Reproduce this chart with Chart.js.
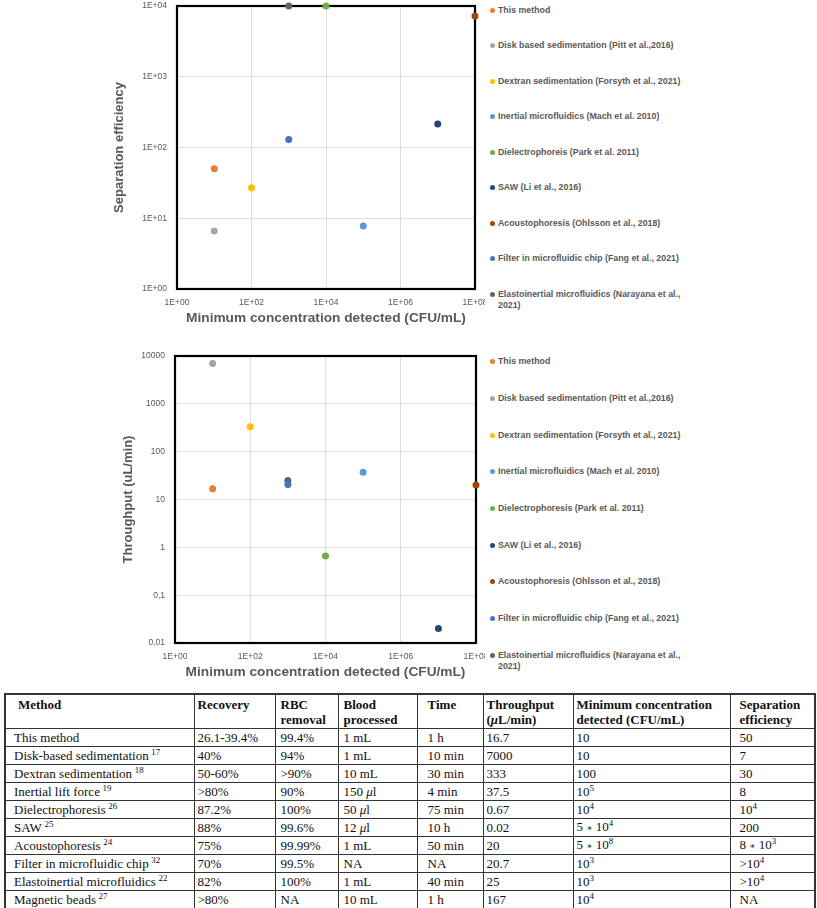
<!DOCTYPE html>
<html>
<head>
<meta charset="utf-8">
<script src="https://cdn.jsdelivr.net/npm/chart.js@4.4.1/dist/chart.umd.min.js"></script>
<style>
    body { margin: 0; background: #fff; }
    #page { position: relative; width: 817px; height: 908px; overflow: hidden; font-family: "Liberation Sans", Arial, sans-serif; }
    .chart-box { position: absolute; left: 0; }
    .legend { position: absolute; left: 0; top: 0; width: 0; height: 0; }
    .legend-item { position: absolute; display: flex; align-items: flex-start; font-weight: bold; font-size: 8.8px; line-height: 11px; color: #595959; }
    .legend-dot { width: 5px; height: 5px; border-radius: 50%; margin-top: 3px; margin-right: 3px; flex: none; }
    .legend-text { width: 192px; }

    #cmp { position: absolute; left: 4px; top: 693px; width: 810px; border-collapse: collapse; table-layout: fixed;
           font-family: "Liberation Serif", "Times New Roman", serif; font-size: 13px; color: #111; border: 2px solid #333; }
    #cmp th, #cmp td { border: 1px solid #333; padding: 0 2px 0 3px; text-align: left; white-space: nowrap; }
    #cmp th { font-weight: bold; vertical-align: top; line-height: 15px; padding-top: 2px; height: 31px; }
    #cmp td { height: 17px; line-height: 15px; vertical-align: middle; }
    #cmp th:nth-child(1) { padding-left: 12px; }
    #cmp td:nth-child(1) { padding-left: 8px; }
    #cmp td:nth-child(3), #cmp th:nth-child(3), #cmp td:nth-child(4), #cmp th:nth-child(4) { padding-left: 5px; }
    #cmp td:nth-child(5), #cmp th:nth-child(5) { padding-left: 10px; }
    #cmp td:nth-child(8), #cmp th:nth-child(8) { padding-left: 9px; }
    #cmp sup { font-size: 9px; line-height: 0; vertical-align: 5px; }
    #cmp .op { font-family: "DejaVu Serif", serif; font-size: 9px; }
</style>
</head>
<body>
<div id="page">
    <div class="chart-box" style="top:0;width:485px;height:330px"><canvas id="sep-chart" width="485" height="330"></canvas></div>
    <div class="chart-box" style="top:340px;width:485px;height:340px"><canvas id="thr-chart" width="485" height="340"></canvas></div>
    <div class="legend" id="sep-legend"></div>
    <div class="legend" id="thr-legend"></div>

    <table id="cmp">
        <colgroup>
            <col style="width:189px"><col style="width:81px"><col style="width:63px"><col style="width:79px">
            <col style="width:66px"><col style="width:90px"><col style="width:157px"><col style="width:85px">
        </colgroup>
        <tr><th>Method</th><th>Recovery</th><th>RBC<br>removal</th><th>Blood<br>processed</th><th>Time</th><th>Throughput<br>(<i>μ</i>L/min)</th><th>Minimum concentration<br>detected (CFU/mL)</th><th>Separation<br>efficiency</th></tr>
        <tr><td>This method</td><td>26.1-39.4%</td><td>99.4%</td><td>1 mL</td><td>1 h</td><td>16.7</td><td>10</td><td>50</td></tr>
        <tr><td>Disk-based sedimentation&thinsp;<sup>17</sup></td><td>40%</td><td>94%</td><td>1 mL</td><td>10 min</td><td>7000</td><td>10</td><td>7</td></tr>
        <tr><td>Dextran sedimentation&thinsp;<sup>18</sup></td><td>50-60%</td><td>&gt;90%</td><td>10 mL</td><td>30 min</td><td>333</td><td>100</td><td>30</td></tr>
        <tr><td>Inertial lift force&thinsp;<sup>19</sup></td><td>&gt;80%</td><td>90%</td><td>150 <i>μ</i>l</td><td>4 min</td><td>37.5</td><td>10<sup>5</sup></td><td>8</td></tr>
        <tr><td>Dielectrophoresis&thinsp;<sup>26</sup></td><td>87.2%</td><td>100%</td><td>50 <i>μ</i>l</td><td>75 min</td><td>0.67</td><td>10<sup>4</sup></td><td>10<sup>4</sup></td></tr>
        <tr><td>SAW&thinsp;<sup>25</sup></td><td>88%</td><td>99.6%</td><td>12 <i>μ</i>l</td><td>10 h</td><td>0.02</td><td>5 <span class="op">∗</span> 10<sup>4</sup></td><td>200</td></tr>
        <tr><td>Acoustophoresis&thinsp;<sup>24</sup></td><td>75%</td><td>99.99%</td><td>1 mL</td><td>50 min</td><td>20</td><td>5 <span class="op">∗</span> 10<sup>8</sup></td><td>8 <span class="op">∗</span> 10<sup>3</sup></td></tr>
        <tr><td>Filter in microfluidic chip&thinsp;<sup>32</sup></td><td>70%</td><td>99.5%</td><td>NA</td><td>NA</td><td>20.7</td><td>10<sup>3</sup></td><td>&gt;10<sup>4</sup></td></tr>
        <tr><td>Elastoinertial microfluidics&thinsp;<sup>22</sup></td><td>82%</td><td>100%</td><td>1 mL</td><td>40 min</td><td>25</td><td>10<sup>3</sup></td><td>&gt;10<sup>4</sup></td></tr>
        <tr><td>Magnetic beads&thinsp;<sup>27</sup></td><td>&gt;80%</td><td>NA</td><td>10 mL</td><td>1 h</td><td>167</td><td>10<sup>4</sup></td><td>NA</td></tr>
    </table>
</div>

<script>
// Series names (top legend has the original "Dielectrophoreis" spelling)
const sepLegendNames = [
    'This method',
    'Disk based sedimentation (Pitt et al.,2016)',
    'Dextran sedimentation (Forsyth et al., 2021)',
    'Inertial microfluidics (Mach et al. 2010)',
    'Dielectrophoreis (Park et al. 2011)',
    'SAW (Li et al., 2016)',
    'Acoustophoresis (Ohlsson et al., 2018)',
    'Filter in microfluidic chip (Fang et al., 2021)',
    'Elastoinertial microfluidics (Narayana et al., 2021)'
];
const thrLegendNames = [
    'This method',
    'Disk based sedimentation (Pitt et al.,2016)',
    'Dextran sedimentation (Forsyth et al., 2021)',
    'Inertial microfluidics (Mach et al. 2010)',
    'Dielectrophoresis (Park et al. 2011)',
    'SAW (Li et al., 2016)',
    'Acoustophoresis (Ohlsson et al., 2018)',
    'Filter in microfluidic chip (Fang et al., 2021)',
    'Elastoinertial microfluidics (Narayana et al., 2021)'
];
const pointColors = ['#ED7D31', '#A5A5A5', '#FFC000', '#5B9BD5', '#70AD47', '#264478', '#9E480E', '#4472C4', '#636363'];

// Values
const minConcentration = [10, 10, 100, 1e5, 1e4, 1e7, 1e8, 1e3, 1e3];
const separationEfficiency = [50, 6.6, 27, 7.8, 1e4, 215, 7200, 130, 1e4];
const throughput = [16.7, 7000, 330, 37, 0.66, 0.02, 20, 20.7, 25];

// Tick values / labels
const xTickValues = [1, 1e2, 1e4, 1e6, 1e8];
const xTickLabels = ['1E+00', '1E+02', '1E+04', '1E+06', '1E+08'];
const sepTickValues = [1, 10, 100, 1000, 10000];
const sepTickLabels = ['1E+00', '1E+01', '1E+02', '1E+03', '1E+04'];
const thrTickValues = [0.01, 0.1, 1, 10, 100, 1000, 10000];
const thrTickLabels = ['0,01', '0,1', '1', '10', '100', '1000', '10000'];

const FONT = '"Liberation Sans", Arial, sans-serif';
const GREY = '#595959';
const FRAME = '#000000';

// no grid line on the outer edges, the frame sits there
const gridColor = c => (c.index === 0 || c.index === c.scale.ticks.length - 1) ? 'rgba(0,0,0,0)' : '#dedede';

// plot frame, drawn before the points so they sit on top of it
function frameBorder() {
    return {
        id: 'frameBorder',
        beforeDatasetsDraw(chart) {
            const ctx = chart.ctx;
            const a = chart.chartArea;
            ctx.save();
            ctx.strokeStyle = FRAME;
            ctx.lineWidth = 2.2;
            ctx.strokeRect(a.left, a.top, a.right - a.left, a.bottom - a.top);
            ctx.restore();
        }
    };
}

function makeChart(canvasId, yValues, opts) {
    const ctx = document.getElementById(canvasId).getContext('2d');
    return new Chart(ctx, {
        type: 'scatter',
        data: {
            datasets: opts.names.map((name, i) => ({
                label: name,
                data: [{ x: minConcentration[i], y: yValues[i] }],
                backgroundColor: pointColors[i],
                borderColor: pointColors[i],
                pointRadius: 3.5,
                pointBorderWidth: 0,
                clip: false
            }))
        },
        options: {
            responsive: false,
            animation: false,
            events: [],
            layout: { padding: opts.padding },
            plugins: { legend: { display: false }, tooltip: { enabled: false } },
            scales: {
                x: {
                    type: 'logarithmic',
                    min: 1,
                    max: 1e8,
                    afterBuildTicks: s => { s.ticks = xTickValues.map(v => ({ value: v })); },
                    afterFit: s => { s.height = opts.xAxisHeight; s.paddingLeft = 0; s.paddingRight = 0; },
                    ticks: {
                        autoSkip: false,
                        maxRotation: 0,
                        padding: 9,
                        color: GREY,
                        font: { family: FONT, size: 8.5 },
                        callback: (v, i) => xTickLabels[i]
                    },
                    grid: { color: gridColor, drawTicks: false },
                    border: { display: false },
                    title: {
                        display: true,
                        text: 'Minimum concentration detected (CFU/mL)',
                        color: GREY,
                        padding: 0,
                        font: { family: FONT, size: 13.7, weight: 'bold' }
                    }
                },
                y: {
                    type: 'logarithmic',
                    min: opts.yTicks[0],
                    max: opts.yTicks[opts.yTicks.length - 1],
                    afterBuildTicks: s => { s.ticks = opts.yTicks.map(v => ({ value: v })); },
                    afterFit: s => { s.width = opts.yAxisWidth; s.paddingTop = 0; s.paddingBottom = 0; },
                    ticks: {
                        autoSkip: false,
                        padding: 10,
                        color: GREY,
                        font: { family: FONT, size: 8.5 },
                        callback: (v, i) => opts.yLabels[i]
                    },
                    grid: { color: gridColor, drawTicks: false },
                    border: { display: false },
                    title: {
                        display: true,
                        text: opts.yTitle,
                        color: GREY,
                        padding: 0,
                        font: { family: FONT, size: 13, weight: 'bold' }
                    }
                }
            }
        },
        plugins: [frameBorder()]
    });
}

function buildLegend(containerId, names, firstY, step) {
    const box = document.getElementById(containerId);
    names.forEach((name, i) => {
        const item = document.createElement('div');
        item.className = 'legend-item';
        item.style.left = '490px';
        item.style.top = (firstY + i * step - 5.5) + 'px';
        const dot = document.createElement('span');
        dot.className = 'legend-dot';
        dot.style.background = pointColors[i];
        const text = document.createElement('span');
        text.className = 'legend-text';
        text.textContent = name;
        item.appendChild(dot);
        item.appendChild(text);
        box.appendChild(item);
    });
}

makeChart('sep-chart', separationEfficiency, {
    names: sepLegendNames,
    padding: { left: 112, top: 6, right: 10, bottom: 4 },
    yAxisWidth: 65,
    xAxisHeight: 37,
    yTicks: sepTickValues,
    yLabels: sepTickLabels,
    yTitle: 'Separation efficiency'
});

makeChart('thr-chart', throughput, {
    names: thrLegendNames,
    padding: { left: 121, top: 16, right: 9, bottom: 0 },
    yAxisWidth: 54,
    xAxisHeight: 37,
    yTicks: thrTickValues,
    yLabels: thrTickLabels,
    yTitle: 'Throughput (uL/min)'
});

buildLegend('sep-legend', sepLegendNames, 10, 35.5);
buildLegend('thr-legend', thrLegendNames, 361.7, 36.67);
</script>
</body>
</html>
